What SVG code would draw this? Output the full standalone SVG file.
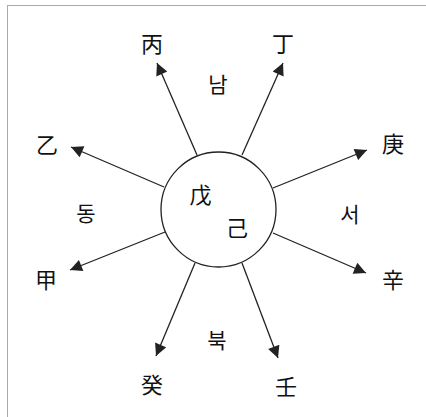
<svg xmlns="http://www.w3.org/2000/svg" width="426" height="417" viewBox="0 0 426 417">
<style>
.h{font-family:"Noto Sans CJK KR","Noto Sans CJK SC",serif;font-size:22px;fill:#111;text-anchor:middle;dominant-baseline:central}
.k{font-family:"Noto Sans CJK KR",sans-serif;font-size:21px;fill:#111;text-anchor:middle;dominant-baseline:central}
.c{stroke:#222;stroke-width:1.3;fill:none}
</style>
<defs>
<marker id="ah" viewBox="0 0 10 10" refX="10" refY="5" markerWidth="14" markerHeight="12" markerUnits="userSpaceOnUse" orient="auto">
<path d="M0,0 L10,5 L0,10 Z" fill="#222"/>
</marker>
</defs>
<rect x="7.5" y="5.5" width="430" height="430" fill="#fff" stroke="#aaa" stroke-width="1"/>
<g id="connectors">
<line class="c" x1="197" y1="155" x2="157" y2="63" marker-end="url(#ah)"/>
<line class="c" x1="242" y1="155" x2="283" y2="63" marker-end="url(#ah)"/>
<line class="c" x1="164" y1="187" x2="71" y2="147" marker-end="url(#ah)"/>
<line class="c" x1="273" y1="188" x2="367" y2="150" marker-end="url(#ah)"/>
<line class="c" x1="165" y1="232" x2="70" y2="270" marker-end="url(#ah)"/>
<line class="c" x1="273" y1="233" x2="366" y2="273" marker-end="url(#ah)"/>
<line class="c" x1="195" y1="263" x2="156" y2="356" marker-end="url(#ah)"/>
<line class="c" x1="242" y1="263" x2="278" y2="358" marker-end="url(#ah)"/>
</g>
<g id="center">
<circle cx="218.5" cy="209.5" r="57.5" fill="#fff" stroke="#222" stroke-width="1.3"/>
<text class="h" x="200.5" y="193">戊</text>
<text class="h" x="237" y="226">己</text>
</g>
<g id="n-byeong"><text class="h" x="152" y="42">丙</text></g>
<g id="n-jeong"><text class="h" x="283" y="42">丁</text></g>
<g id="n-eul"><text class="h" x="47" y="143">乙</text></g>
<g id="n-gyeong"><text class="h" x="393" y="142">庚</text></g>
<g id="n-gap"><text class="h" x="46" y="278">甲</text></g>
<g id="n-sin"><text class="h" x="393" y="278">辛</text></g>
<g id="n-gye"><text class="h" x="152" y="383">癸</text></g>
<g id="n-im"><text class="h" x="286" y="385">壬</text></g>
<g id="l-nam"><text class="k" x="218" y="83">남</text></g>
<g id="l-dong"><text class="k" x="86" y="212">동</text></g>
<g id="l-seo"><text class="k" x="350" y="213">서</text></g>
<g id="l-buk"><text class="k" x="217" y="339">북</text></g>
</svg>
